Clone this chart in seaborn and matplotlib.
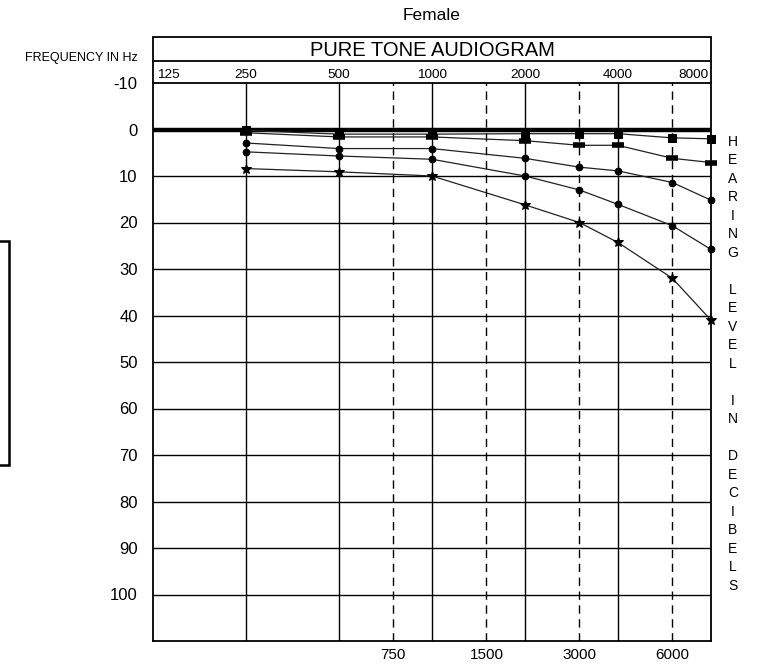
import numpy as np
import pandas as pd
import seaborn as sns
import matplotlib.pyplot as plt
from matplotlib.patches import Rectangle

# data
freqs = [250, 500, 1000, 2000, 3000, 4000, 6000, 8000]
curve_sq = [0.2, 1.0, 1.0, 0.9, 0.9, 0.9, 1.8, 2.0]
curve_bar = [0.7, 1.6, 1.6, 2.4, 3.4, 3.4, 6.2, 7.1]
curve_dot1 = [2.9, 4.1, 4.1, 6.2, 8.1, 8.9, 11.4, 15.2]
curve_dot2 = [4.8, 5.7, 6.4, 10.0, 13.0, 16.1, 20.7, 25.8]
curve_star = [8.4, 9.1, 10.0, 16.2, 20.0, 24.3, 32.0, 41.0]

octave_freqs = [250, 500, 1000, 2000, 4000]
half_freqs = [750, 1500, 3000, 6000]
top_labels = ['125', '250', '500', '1000', '2000', '4000', '8000']
db_ticks = list(range(-10, 101, 10))
side_label = "HEARING LEVEL IN DECIBELS"

sns.set_style("white")
plt.rcParams['font.family'] = ['Liberation Sans', 'DejaVu Sans']
plt.rcParams['text.color'] = 'black'
plt.rcParams['xtick.color'] = 'black'
plt.rcParams['ytick.color'] = 'black'

fig = plt.figure(figsize=(7.61, 6.71), dpi=100)
ax = fig.add_axes([153 / 761, 1 - 641 / 671, 558 / 761, 558 / 671])

# grid
for f in octave_freqs:
    ax.axvline(f, color='black', lw=1.0, zorder=1)
for f in half_freqs:
    ax.axvline(f, color='black', lw=1.0, dashes=(6, 4), zorder=1)
for d in range(10, 101, 10):
    ax.axhline(d, color='black', lw=1.0, zorder=1)
ax.axhline(0, color='black', lw=3.2, zorder=2)

series = [
    (curve_sq, dict(marker='s', markersize=6)),
    (curve_bar, dict(marker='_', markersize=8, markeredgewidth=4)),
    (curve_dot1, dict(marker='o', markersize=4.8)),
    (curve_dot2, dict(marker='o', markersize=4.8)),
    (curve_star, dict(marker='*', markersize=7.5)),
]
for vals, kw in series:
    df = pd.DataFrame({'freq': freqs, 'db': vals})
    sns.lineplot(data=df, x='freq', y='db', ax=ax, color='#222222', lw=0.9,
                 markeredgecolor='black', markerfacecolor='black',
                 clip_on=False, zorder=3, **kw)

ax.set_xscale('log', base=2)
ax.set_xlim(125, 8000)
ax.set_ylim(110, -10)
ax.set_yticks(db_ticks)
ax.set_yticklabels([str(t) for t in db_ticks], fontsize=12)
ax.set_xticks(half_freqs)
ax.set_xticklabels([str(f) for f in half_freqs], fontsize=11)
ax.xaxis.set_minor_locator(plt.NullLocator())
ax.tick_params(axis='y', length=0, pad=11)
ax.tick_params(axis='x', length=0, pad=5)
ax.set_xlabel('')
ax.set_ylabel('')
for sp in ax.spines.values():
    sp.set_color('black')
    sp.set_linewidth(1.3)

# header boxes above the grid
h_freq = 1 + 22 / 558
h_title = 1 + 46 / 558
for yy in [h_freq, h_title]:
    ax.plot([0, 1], [yy, yy], transform=ax.transAxes, color='black', lw=1.3, clip_on=False)
for xx in [0, 1]:
    ax.plot([xx, xx], [1, h_title], transform=ax.transAxes, color='black', lw=1.3, clip_on=False)

ax.text(0.5, 1 + 35 / 558, 'PURE TONE AUDIOGRAM', transform=ax.transAxes,
        ha='center', va='center_baseline', fontsize=14.5)
ax.text(0.5, 1 + 68 / 558, 'Female', transform=ax.transAxes, ha='center', va='center', fontsize=12.5)

row_y = 1 + 10 / 558
trans = ax.get_xaxis_transform()
label_pos = [(125 * 1.03, 'left'), (250, 'center'), (500, 'center'), (1000, 'center'),
             (2000, 'center'), (4000, 'center'), (8000 * 0.985, 'right')]
for (xp, ha), lab in zip(label_pos, top_labels):
    ax.text(xp, row_y, lab, transform=trans, ha=ha, va='center_baseline', fontsize=9.7)

fig.text(138 / 761, 1 - 58 / 671, 'FREQUENCY IN Hz', ha='right', va='center', fontsize=9,
         family=['Liberation Sans Narrow', 'Liberation Sans'])

# vertical side label
for i, ch in enumerate(side_label):
    if ch == ' ':
        continue
    ax.text(1.039, 2.6 + i * 3.98, ch, transform=ax.get_yaxis_transform(),
            ha='center', va='center', fontsize=10)

# cut-off box at left edge
fig.add_artist(Rectangle((-10 / 761, 1 - 465 / 671), 19 / 761, 224 / 671,
                         transform=fig.transFigure, fill=False, lw=1.8, color='black'))

fig.savefig('out.png', dpi=100)
